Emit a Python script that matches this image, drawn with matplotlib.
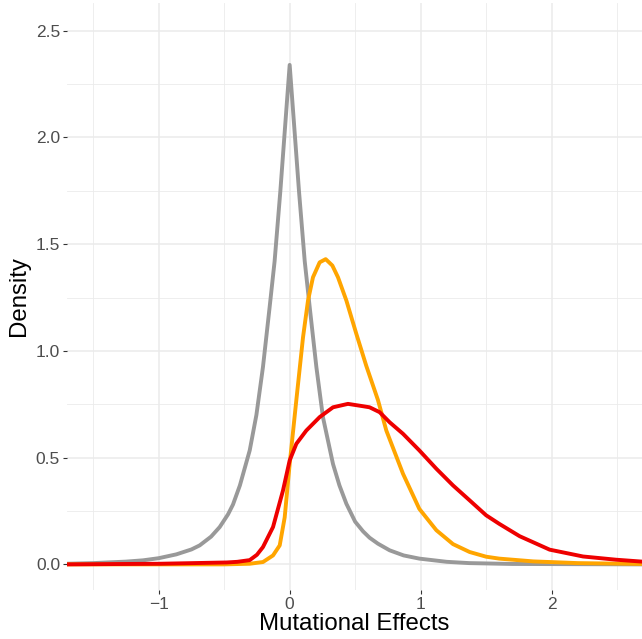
import matplotlib
matplotlib.use("Agg")
import matplotlib.pyplot as plt

# density curves
grey_x = [-1.70, -1.5, -1.25, -1.12, -1.0, -0.865, -0.75, -0.687, -0.6, -0.534, -0.47,
          -0.433, -0.38, -0.305, -0.254, -0.204, -0.153, -0.115, -0.071, -0.035, 0.0,
          0.035, 0.071, 0.115, 0.153, 0.204, 0.254, 0.331, 0.38, 0.433, 0.5, 0.56, 0.61,
          0.674, 0.763, 0.87, 0.99, 1.2, 1.37, 1.7, 2.69]
grey_y = [0.003, 0.006, 0.013, 0.019, 0.029, 0.047, 0.07, 0.089, 0.13, 0.175, 0.235,
          0.28, 0.37, 0.534, 0.70, 0.924, 1.205, 1.42, 1.75, 2.05, 2.34,
          2.05, 1.75, 1.42, 1.205, 0.924, 0.69, 0.47, 0.37, 0.284, 0.2, 0.155, 0.125,
          0.097, 0.066, 0.042, 0.027, 0.012, 0.006, 0.002, 0.0]

orange_x = [-1.70, -0.5, -0.305, -0.204, -0.127, -0.076, -0.038, 0.0, 0.051, 0.102, 0.14,
            0.178, 0.229, 0.275, 0.326, 0.369, 0.433, 0.509, 0.585, 0.674, 0.738, 0.865,
            0.99, 1.12, 1.247, 1.374, 1.5, 1.6, 1.86, 2.2, 2.69]
orange_y = [0.0, 0.0, 0.003, 0.011, 0.042, 0.089, 0.22, 0.47, 0.77, 1.064, 1.236,
            1.345, 1.415, 1.43, 1.40, 1.345, 1.236, 1.08, 0.93, 0.77, 0.627, 0.425,
            0.26, 0.16, 0.095, 0.058, 0.036, 0.027, 0.014, 0.006, 0.002]

red_x = [-1.70, -0.99, -0.48, -0.4, -0.305, -0.25, -0.204, -0.127, -0.051, 0.0, 0.051,
         0.127, 0.229, 0.331, 0.445, 0.56, 0.61, 0.687, 0.763, 0.865, 0.99, 1.12, 1.247,
         1.374, 1.5, 1.6, 1.756, 1.985, 2.24, 2.49, 2.69]
red_y = [0.0, 0.003, 0.009, 0.012, 0.02, 0.045, 0.081, 0.175, 0.346, 0.487, 0.565,
         0.627, 0.69, 0.736, 0.752, 0.741, 0.736, 0.713, 0.666, 0.612, 0.534, 0.448, 0.37,
         0.30, 0.23, 0.19, 0.132, 0.069, 0.037, 0.022, 0.013]

x_major = [-1, 0, 1, 2]
x_minor = [-1.5, -0.5, 0.5, 1.5, 2.5]
y_major = [0.0, 0.5, 1.0, 1.5, 2.0, 2.5]
y_minor = [0.25, 0.75, 1.25, 1.75, 2.25]

plt.rcParams['font.family'] = ['Liberation Sans', 'DejaVu Sans']

W, H = 642, 639
fig = plt.figure(figsize=(W / 100., H / 100.), dpi=100)
ax = fig.add_axes([67. / W, (H - 590.) / H, (642. - 67.) / W, (590. - 3.) / H])

ax.plot(grey_x, grey_y, color='#999999', lw=2.8, solid_joinstyle='round', zorder=3)
ax.plot(orange_x, orange_y, color='#FFA500', lw=2.8, solid_joinstyle='round', zorder=3)
ax.plot(red_x, red_y, color='#EE0000', lw=2.8, solid_joinstyle='round', zorder=4)

ax.set_xlim(-1.70, 2.69)
ax.set_ylim(-0.12, 2.63)

ax.set_xticks(x_major)
ax.set_xticklabels(['\u22121', '0', '1', '2'])
ax.set_xticks(x_minor, minor=True)
ax.set_yticks(y_major)
ax.set_yticklabels(['%.1f' % v for v in y_major])
ax.set_yticks(y_minor, minor=True)

ax.grid(which='major', color='#EBEBEB', lw=1.1)
ax.grid(which='minor', color='#EBEBEB', lw=0.6)
ax.set_axisbelow(True)
for s in ax.spines.values():
    s.set_visible(False)

ax.tick_params(which='major', length=3, width=0.8, color='#333333',
               labelsize=12.5, labelcolor='#4D4D4D', pad=2)
ax.tick_params(which='minor', length=0)

ax.set_xlabel('Mutational Effects', fontsize=17.3, labelpad=1)
ax.set_ylabel('Density', fontsize=17.3, labelpad=4)

fig.savefig('out.png', dpi=100)
